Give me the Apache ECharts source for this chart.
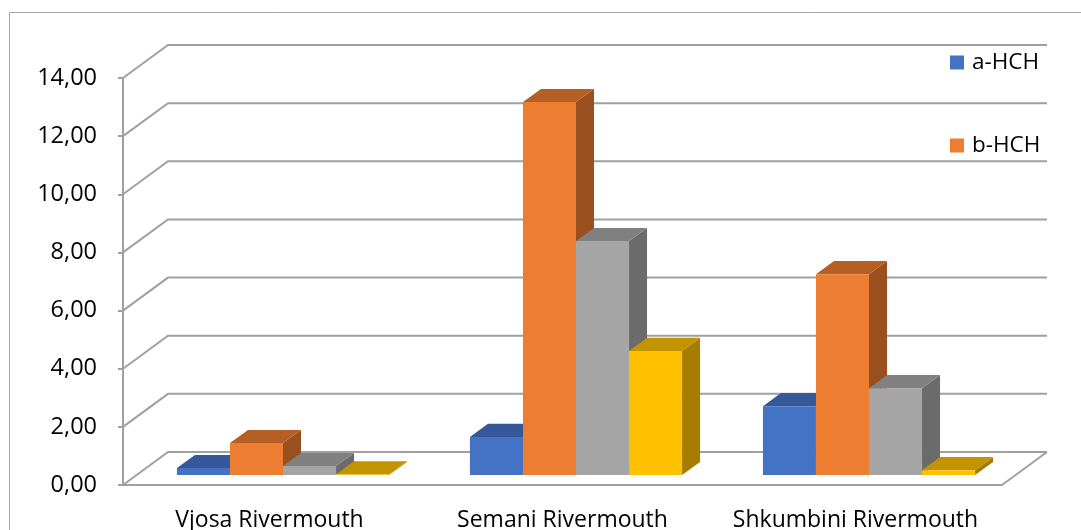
<!DOCTYPE html>
<html style="height: 100%">
<head>
	<meta charset="utf-8">
	<title>HCH Rivermouth</title>
	<script src="https://cdn.jsdelivr.net/npm/echarts@6/dist/echarts.min.js"></script>
</head>
<body style="height: 100%; margin: 0; background: #fff">
	<div id="main" style="width: 1081px; height: 530px"></div>
	<script type="text/javascript">

		// data
		var categories = ['Vjosa Rivermouth', 'Semani Rivermouth', 'Shkumbini Rivermouth'];
		var aHCH = [0.24, 1.31, 2.37];
		var bHCH = [1.10, 12.83, 6.91];
		var gHCH = [0.31, 8.05, 2.99];
		var dHCH = [0.02, 4.27, 0.17];
		var yTicks = [0, 2, 4, 6, 8, 10, 12, 14];

		// 3d look: depth of the whole plot and of the bars, in px
		var DEPTH = [45, -33];
		var F1 = 0.3, F2 = 0.7;
		var BAR = 0.181;

		var faces = [
			{ front: '#4472C4', top: '#34589A', side: '#2F5597' },
			{ front: '#ED7D31', top: '#B65F24', side: '#9A4F1E' },
			{ front: '#A5A5A5', top: '#808080', side: '#6B6B6B' },
			{ front: '#FFC000', top: '#C49300', side: '#A67C00' }
		];

		var dom = document.getElementById('main');
		var myChart = echarts.init(dom);
		var font = '"Open Sans", sans-serif';

		var gridLines = function(params, api) {
			var v = api.value(0);
			var cs = params.coordSys;
			var y = api.coord([0, v])[1];
			var xl = cs.x, xr = cs.x + cs.width;
			var children = [{
				type: 'polyline',
				shape: { points: [[xl, y], [xl + DEPTH[0], y + DEPTH[1]], [xr + DEPTH[0], y + DEPTH[1]]] },
				style: { stroke: '#a0a0a0', lineWidth: 2, fill: null }
			}];
			if (v === 0) {
				children.push({
					type: 'line',
					shape: { x1: xr, y1: y, x2: xr + DEPTH[0], y2: y + DEPTH[1] },
					style: { stroke: '#a0a0a0', lineWidth: 2 }
				});
			}
			return { type: 'group', children: children };
		};

		var box = function(idx) {
			return function(params, api) {
				var cat = api.value(0);
				var base = api.coord([cat, 0]);
				var top = api.coord([cat, api.value(1)]);
				var bw = api.size([1, 0])[0];
				var w = bw * BAR;
				var dx = DEPTH[0] * (F2 - F1), dy = DEPTH[1] * (F2 - F1);
				var x0 = base[0] - 2 * w + idx * w + DEPTH[0] * F1;
				var yb = base[1] + DEPTH[1] * F1;
				var yt = top[1] + DEPTH[1] * F1;
				var c = faces[idx];
				return {
					type: 'group',
					children: [
						{
							type: 'polygon',
							shape: { points: [[x0 + w, yt], [x0 + w, yb], [x0 + w + dx, yb + dy], [x0 + w + dx, yt + dy]] },
							style: { fill: c.side }
						},
						{
							type: 'polygon',
							shape: { points: [[x0, yt], [x0 + w, yt], [x0 + w + dx, yt + dy], [x0 + dx, yt + dy]] },
							style: { fill: c.top }
						},
						{
							type: 'rect',
							shape: { x: x0, y: yt, width: w, height: yb - yt },
							style: { fill: c.front }
						}
					]
				};
			};
		};

		var pairs = function(arr) {
			return arr.map(function(v, i) { return [i, v]; });
		};

		var names = ['a-HCH', 'b-HCH', 'g-HCH', 'd-HCH'];
		var values = [aHCH, bHCH, gHCH, dHCH];

		var series = [{
			name: 'grid3d',
			type: 'custom',
			renderItem: gridLines,
			data: yTicks.map(function(v) { return [v]; }),
			encode: { y: 0 },
			silent: true,
			z: 1
		}];
		for (var i = 0; i < 4; i++) {
			series.push({
				name: names[i],
				type: 'custom',
				renderItem: box(i),
				itemStyle: { color: faces[i].front },
				data: pairs(values[i]),
				encode: { x: 0, y: 1 },
				z: 2
			});
		}

		var option = {
			animation: false,
			textStyle: { fontFamily: font },
			graphic: [{
				type: 'rect',
				left: 7, top: 10,
				shape: { width: 1120, height: 600 },
				style: { fill: null, stroke: '#a6a6a6', lineWidth: 1 },
				z: 0
			}],
			legend: {
				data: ['a-HCH', 'b-HCH'],
				orient: 'vertical',
				left: 945,
				top: 46,
				icon: 'rect',
				itemWidth: 14,
				itemHeight: 14,
				itemGap: 60,
				textStyle: { fontFamily: font, fontSize: 22.5, lineHeight: 23, color: '#000', padding: [0, 0, 0, 3] }
			},
			grid: { left: 123, right: 79, top: 78, bottom: 45, outerBoundsMode: 'none' },
			xAxis: {
				type: 'category',
				data: categories,
				axisLine: { lineStyle: { color: '#a0a0a0', width: 2 } },
				axisTick: { length: 9, lineStyle: { color: '#a0a0a0', width: 2 } },
				axisLabel: { fontFamily: font, fontSize: 23, color: '#000', margin: 24, interval: 0, hideOverlap: false }
			},
			yAxis: {
				type: 'value',
				min: 0,
				max: 14,
				interval: 2,
				axisLine: { show: true, lineStyle: { color: '#a0a0a0', width: 2 } },
				axisTick: { show: true, length: 5, lineStyle: { color: '#a0a0a0', width: 2 } },
				splitLine: { show: false },
				axisLabel: {
					fontFamily: font, fontSize: 23.5, color: '#000', margin: 26,
					formatter: function(v) { return v.toFixed(2).replace('.', ','); }
				}
			},
			series: series
		};
		myChart.setOption(option);
	</script>
</body>
</html>
